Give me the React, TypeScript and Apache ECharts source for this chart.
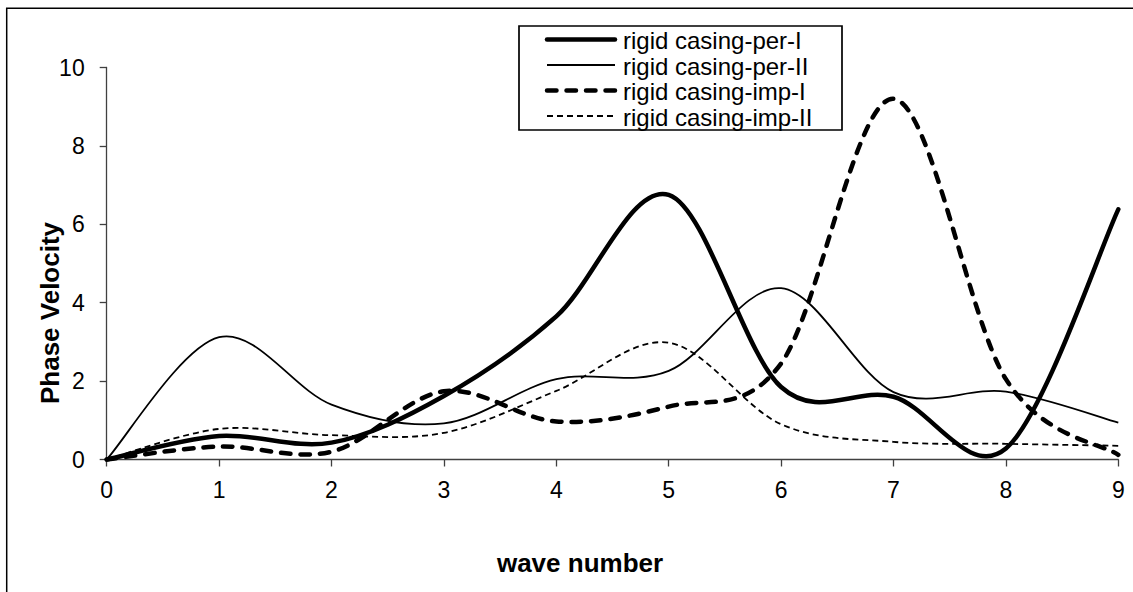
import React, { useEffect, useRef } from "react";
import * as echarts from "echarts";

// ---- data ----
const waveNumbers = [0, 1, 2, 3, 4, 5, 6, 7, 8, 9];
const rigidPerI = [0, 0.6, 0.43, 1.62, 3.65, 6.75, 1.85, 1.6, 0.28, 6.38];
const rigidPerII = [0, 3.12, 1.4, 0.92, 2.05, 2.26, 4.37, 1.72, 1.73, 0.94];
const rigidImpI = [0, 0.33, 0.2, 1.74, 0.97, 1.35, 2.45, 9.2, 2.05, 0.12];
const rigidImpII = [0, 0.78, 0.62, 0.68, 1.75, 2.98, 0.9, 0.45, 0.4, 0.35];
const seriesNames = [
  "rigid casing-per-I",
  "rigid casing-per-II",
  "rigid casing-imp-I",
  "rigid casing-imp-II",
];
const xRange = [0, 9];
const yRange = [0, 10];
const xTitle = "wave number";
const yTitle = "Phase Velocity";

const FONT = "'Liberation Sans', Arial, Helvetica, sans-serif";

// line styles per series
const styles = [
  { lineWidth: 4.5, lineDash: null as number[] | null, lineCap: "round" },
  { lineWidth: 1.8, lineDash: null as number[] | null, lineCap: "butt" },
  { lineWidth: 4.5, lineDash: [9.5, 10], lineCap: "round" },
  { lineWidth: 1.8, lineDash: [6, 4], lineCap: "butt" },
];

// Excel-like smoothed curve (Catmull-Rom through the data points, in pixel space)
function smoothPath(pts: number[][]): string {
  let d = `M${pts[0][0]},${pts[0][1]}`;
  for (let i = 0; i < pts.length - 1; i++) {
    const p0 = pts[i - 1] || pts[i];
    const p1 = pts[i];
    const p2 = pts[i + 1];
    const p3 = pts[i + 2] || pts[i + 1];
    const c1x = p1[0] + (p2[0] - p0[0]) / 6;
    const c1y = p1[1] + (p2[1] - p0[1]) / 6;
    const c2x = p2[0] - (p3[0] - p1[0]) / 6;
    const c2y = p2[1] - (p3[1] - p1[1]) / 6;
    d += ` C${c1x},${c1y} ${c2x},${c2y} ${p2[0]},${p2[1]}`;
  }
  return d;
}

function makeSeries(name: string, values: number[], idx: number) {
  const st = styles[idx];
  return {
    type: "custom",
    name,
    data: values.map((v, i) => [waveNumbers[i], v]),
    encode: { x: 0, y: 1 },
    renderItem: (params: any, api: any) => {
      if (params.dataIndex !== 0) return null;
      const pts = values.map((v, i) => api.coord([waveNumbers[i], v]));
      const style: any = {
        fill: "none",
        stroke: "#000",
        lineWidth: st.lineWidth,
        lineCap: st.lineCap,
        lineJoin: "round",
      };
      if (st.lineDash) style.lineDash = st.lineDash;
      return {
        type: "path",
        shape: { pathData: smoothPath(pts) },
        style,
      };
    },
    z: 2,
  };
}

export default function App() {
  const ref = useRef<HTMLDivElement>(null);

  useEffect(() => {
    if (!ref.current) return;
    const chart = echarts.init(ref.current, null, { renderer: "svg" });

    const legendX0 = 519;
    const legendY0 = 26;
    const legendW = 323;
    const legendH = 104;
    const rowY = [39.5, 65, 90.5, 116];
    const legendEls: any[] = [
      {
        type: "rect",
        shape: { x: legendX0, y: legendY0, width: legendW, height: legendH },
        style: { fill: "#fff", stroke: "#000", lineWidth: 1.7 },
        z: 10,
      },
    ];
    seriesNames.forEach((n, i) => {
      const st = styles[i];
      const ls: any = {
        stroke: "#000",
        lineWidth: st.lineWidth,
        lineCap: st.lineCap,
      };
      if (st.lineDash) ls.lineDash = st.lineDash;
      legendEls.push({
        type: "line",
        shape: { x1: 547, y1: rowY[i], x2: 615, y2: rowY[i] },
        style: ls,
        z: 11,
      });
      legendEls.push({
        type: "text",
        x: 623,
        y: rowY[i] + 1,
        style: {
          text: n,
          fill: "#000",
          font: `24px ${FONT}`,
          textAlign: "left",
          textVerticalAlign: "middle",
        },
        z: 11,
      });
    });

    chart.setOption({
      animation: false,
      grid: {
        left: 106.7,
        right: 14.7,
        top: 67.5,
        bottom: 132.5,
        containLabel: false,
      },
      xAxis: {
        type: "value",
        min: xRange[0],
        max: xRange[1],
        interval: 1,
        splitLine: { show: false },
        axisLine: { show: true, lineStyle: { color: "#404040", width: 1.3 } },
        axisTick: {
          show: true,
          inside: false,
          length: 7,
          lineStyle: { color: "#404040", width: 1.3 },
        },
        axisLabel: {
          color: "#000",
          fontSize: 23,
          fontFamily: FONT,
          margin: 19,
        },
      },
      yAxis: {
        type: "value",
        min: yRange[0],
        max: yRange[1],
        interval: 2,
        splitLine: { show: false },
        axisLine: { show: true, lineStyle: { color: "#404040", width: 1.3 } },
        axisTick: {
          show: true,
          inside: false,
          length: 7,
          lineStyle: { color: "#404040", width: 1.3 },
        },
        axisLabel: {
          color: "#000",
          fontSize: 23,
          fontFamily: FONT,
          margin: 22,
        },
      },
      series: [
        makeSeries(seriesNames[0], rigidPerI, 0),
        makeSeries(seriesNames[1], rigidPerII, 1),
        makeSeries(seriesNames[2], rigidImpI, 2),
        makeSeries(seriesNames[3], rigidImpII, 3),
      ],
      graphic: [
        {
          type: "polyline",
          shape: {
            points: [
              [6.7, 700],
              [6.7, 8.3],
              [1200, 8.3],
            ],
          },
          style: { stroke: "#000", lineWidth: 1.5, fill: "none" },
          z: 10,
        },
        {
          type: "text",
          x: 580,
          y: 563,
          style: {
            text: xTitle,
            fill: "#000",
            font: `bold 26px ${FONT}`,
            textAlign: "center",
            textVerticalAlign: "middle",
          },
        },
        {
          type: "text",
          x: 50,
          y: 313,
          rotation: Math.PI / 2,
          style: {
            text: yTitle,
            fill: "#000",
            font: `bold 26px ${FONT}`,
            textAlign: "center",
            textVerticalAlign: "middle",
          },
        },
        ...legendEls,
      ],
    });

    return () => {
      chart.dispose();
    };
  }, []);

  return (
    <div
      ref={ref}
      style={{
        position: "absolute",
        left: 0,
        top: 0,
        width: 1133,
        height: 592,
        background: "#fff",
      }}
    />
  );
}
